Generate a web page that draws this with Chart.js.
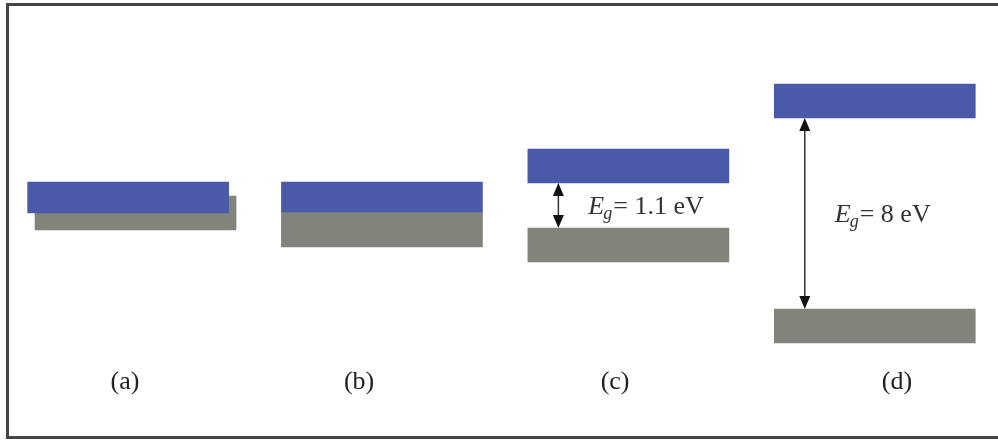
<!DOCTYPE html>
<html lang="en">
<head>
  <meta charset="UTF-8">
  <title>Band gaps</title>
  <style>
    body {
      margin: 0;
      background-color: white;
    }
    #wrap {
      position: relative;
      width: 998px;
      height: 440px;
      overflow: hidden;
    }
    #frame {
      position: absolute;
      left: 6px;
      top: 3px;
      right: -20px;
      bottom: 1px;
      border: 3px solid #454545;
      border-right: none;
    }
    #bands {
      position: absolute;
      left: 0;
      top: 0;
    }
  </style>
</head>
<body>
  <div id="wrap">
    <div id="frame"></div>
    <canvas id="bands" width="998" height="440"></canvas>
  </div>

  <script src="https://cdn.jsdelivr.net/npm/chart.js"></script>
  <script>
    // panels (a)-(d), energies in arbitrary units (schematic)
    const panels = ['(a)', '(b)', '(c)', '(d)'];
    const conductionBand = [[15.2, 18.3], [15.3, 18.3], [18.2, 21.6], [24.7, 28.1]];
    const valenceBand = [[13.5, 16.9], [11.8, 15.3], [10.3, 13.7], [2.2, 5.6]];
    const gapLabels = [null, null, '1.1 eV', '8 eV'];

    // layout only: where each panel sits on the x axis
    const panelPos = [0, 1, 2, 3];
    const cbShift = [-0.03, 0, 0, 0];
    const labelPos = [-0.043, 0.907, 1.946, 3.09];

    const BAR_W = 201;
    const blue = '#4a5aa8';
    const gray = '#80847a';

    // double arrow + E_g text between the bands
    const gapPlugin = {
      id: 'gapPlugin',
      afterDatasetsDraw(chart) {
        const ctx = chart.ctx;
        const xs = chart.scales.x, ys = chart.scales.y;
        gapLabels.forEach((txt, i) => {
          if (!txt) return;
          const ax = xs.getPixelForValue(panelPos[i]) - BAR_W / 2 + 30.5;
          const top = ys.getPixelForValue(conductionBand[i][0]);
          const bot = ys.getPixelForValue(valenceBand[i][1]);
          ctx.save();
          ctx.strokeStyle = '#333';
          ctx.lineWidth = 1.5;
          ctx.beginPath();
          ctx.moveTo(ax, top + 10);
          ctx.lineTo(ax, bot - 10);
          ctx.stroke();
          ctx.fillStyle = '#111';
          ctx.beginPath();
          ctx.moveTo(ax, top);
          ctx.lineTo(ax - 5.5, top + 13);
          ctx.lineTo(ax + 5.5, top + 13);
          ctx.closePath();
          ctx.fill();
          ctx.beginPath();
          ctx.moveTo(ax, bot);
          ctx.lineTo(ax - 5.5, bot - 13);
          ctx.lineTo(ax + 5.5, bot - 13);
          ctx.closePath();
          ctx.fill();

          // E_g = ...
          let x = ax + 30;
          const y = (top + bot) / 2 + 8.5;
          ctx.fillStyle = '#333';
          ctx.textBaseline = 'alphabetic';
          ctx.textAlign = 'left';
          ctx.font = 'italic 26px "Liberation Serif"';
          ctx.fillText('E', x, y);
          x += ctx.measureText('E').width - 1;
          ctx.font = 'italic 18px "Liberation Serif"';
          ctx.fillText('g', x, y + 5);
          x += ctx.measureText('g').width + 1;
          ctx.font = '26px "Liberation Serif"';
          ctx.fillText('= ' + txt, x, y);
          ctx.restore();
        });
      }
    };

    const config = {
      type: 'bar',
      data: {
        datasets: [
          {
            label: 'Conduction band',
            backgroundColor: blue,
            data: conductionBand.map((v, i) => ({ x: panelPos[i] + cbShift[i], y: v }))
          },
          {
            label: 'Valence band',
            backgroundColor: gray,
            data: valenceBand.map((v, i) => ({ x: panelPos[i], y: v }))
          }
        ]
      },
      options: {
        responsive: false,
        animation: false,
        layout: { padding: 0, autoPadding: false },
        datasets: { bar: { grouped: false, barThickness: BAR_W, borderWidth: 0 } },
        plugins: { legend: { display: false }, tooltip: { enabled: false } },
        scales: {
          x: {
            type: 'linear',
            min: -0.55,
            max: 3.5,
            offset: false,
            bounds: 'data',
            grid: { display: false, drawTicks: false, offset: false },
            border: { display: false },
            afterBuildTicks: (axis) => { axis.ticks = labelPos.map(v => ({ value: v })); },
            afterFit: (axis) => { axis.height = 75; },
            ticks: {
              padding: 2,
              color: '#222',
              font: { family: 'Liberation Serif', size: 26 },
              callback: (value, index) => panels[index]
            }
          },
          y: {
            display: false,
            min: 0,
            max: 36.5
          }
        }
      },
      plugins: [gapPlugin]
    };

    new Chart(document.getElementById('bands'), config);
  </script>
</body>
</html>
